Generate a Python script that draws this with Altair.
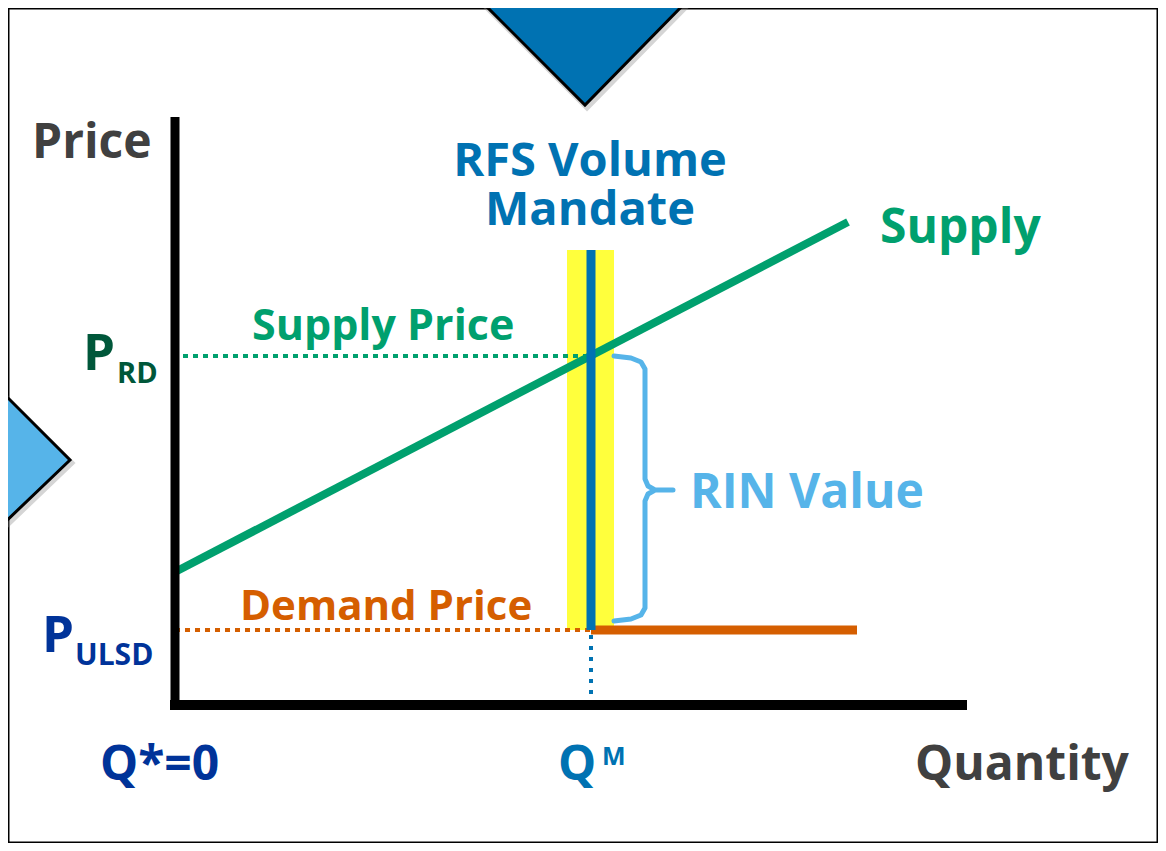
import altair as alt
import pandas as pd

# ---- diagram values (data units: quantity / price, origin at axes corner) ----
Q_M = 416            # RFS volume mandate quantity
P_RD = 349           # renewable diesel (supply) price
P_ULSD = 75          # ULSD (demand) price
supply_q = [0, 673]
supply_p = [133, 483]
demand_q = [416, 682]
demand_p = [75, 75]
axis_q_max = 792
axis_p_max = 588
band_q = [392, 439]
band_p_top = 455

# curly bracket for RIN value (from P_RD down to P_ULSD)
brace_q = [439, 456, 466, 470, 470, 473, 480, 498, 480, 473, 470, 470, 466, 456, 439]
brace_p = [349, 347, 343, 336, 226, 219, 215, 215, 215, 211, 204, 97, 90, 86, 84]

# decorative triangles
top_tri_q = [305, 410, 513]
top_tri_lo = [705, 600, 705]
top_tri_hi = [720, 720, 720]
left_tri_p = [315, 245, 178]
left_tri_q = [-190, -190, -190]
left_tri_q2 = [-175, -105, -175]

X_DOM = [-167, 983]
Y_DOM = [-138, 697]
FONT = "Open Sans"

xs = alt.Scale(domain=X_DOM, nice=False, zero=False)
ys = alt.Scale(domain=Y_DOM, nice=False, zero=False)


def seg(qs, ps):
    return pd.DataFrame({"q": qs, "p": ps, "o": list(range(len(qs)))})


def line(df, color, width, dash=None, cap="butt", join="miter", opacity=1):
    kw = dict(color=color, strokeWidth=width, strokeCap=cap, strokeJoin=join,
              clip=True, opacity=opacity)
    if dash:
        kw["strokeDash"] = dash
    return alt.Chart(df).mark_line(**kw).encode(
        x=alt.X("q:Q", scale=xs, axis=None),
        y=alt.Y("p:Q", scale=ys, axis=None),
        order="o:O",
    )


def text(label, q, p, color, size, align="left", **extra):
    df = pd.DataFrame({"q": [q], "p": [p], "t": [label]})
    return alt.Chart(df).mark_text(
        align=align, baseline="alphabetic", font=FONT, fontWeight="bold",
        fontSize=size, color=color, **extra
    ).encode(x=alt.X("q:Q", scale=xs, axis=None), y=alt.Y("p:Q", scale=ys, axis=None), text="t:N")


GREEN = "#00a06e"
ORANGE = "#d55e00"
BLUE = "#0072b2"
LBLUE = "#56b4e9"
DGREEN = "#00573a"
DBLUE = "#003399"
GRAY = "#404040"

top_df = pd.DataFrame({"q": top_tri_q, "lo": top_tri_lo, "hi": top_tri_hi})
top_tri = alt.Chart(top_df).mark_area(
    fill=BLUE, clip=True, interpolate="linear", opacity=1
).encode(
    x=alt.X("q:Q", scale=xs, axis=None),
    y=alt.Y("lo:Q", scale=ys, axis=None),
    y2=alt.Y2("hi:Q"),
)

left_df = pd.DataFrame({"p": left_tri_p, "q": left_tri_q, "q2": left_tri_q2})
left_tri = alt.Chart(left_df).mark_area(
    fill=LBLUE, clip=True, orient="horizontal", interpolate="linear", opacity=1
).encode(
    y=alt.Y("p:Q", scale=ys, axis=None),
    x=alt.X("q:Q", scale=xs, axis=None),
    x2=alt.X2("q2:Q"),
)

band_df = pd.DataFrame({"q": [band_q[0]], "q2": [band_q[1]], "p": [P_ULSD], "p2": [band_p_top]})
band = alt.Chart(band_df).mark_rect(color="#ffff3c", opacity=1).encode(
    x=alt.X("q:Q", scale=xs, axis=None), x2="q2:Q",
    y=alt.Y("p:Q", scale=ys, axis=None), y2="p2:Q",
)

layers = [
    band,
    line(seg([8, Q_M], [P_RD, P_RD]), GREEN, 4, [5, 5]),
    line(seg([0, Q_M], [P_ULSD, P_ULSD]), ORANGE, 4, [5, 5]),
    line(seg([Q_M, Q_M], [0, P_ULSD]), BLUE, 4, [4, 7]),
    line(seg(demand_q, demand_p), ORANGE, 9),
    line(seg(supply_q, supply_p), GREEN, 8),
    line(seg([Q_M, Q_M], [P_ULSD, band_p_top]), BLUE, 9),
    line(seg(brace_q, brace_p), LBLUE, 5, cap="round", join="round"),
    line(seg([0, 0], [-5, axis_p_max]), "black", 9),
    line(seg([-5, axis_q_max], [0, 0]), "black", 10),
    # soft shadows of the triangles
    line(seg([q + 2 for q in top_tri_q], [p - 3 for p in top_tri_lo]), "#888888", 5, opacity=0.35),
    line(seg([q + 2 for q in left_tri_q2], [p - 3 for p in left_tri_p]), "#888888", 5, opacity=0.35),
    top_tri,
    line(seg(top_tri_q, top_tri_lo), "#000000", 3, join="miter"),
    left_tri,
    line(seg(left_tri_q2, left_tri_p), "#000000", 3, join="miter"),
    text("Price", -143, 547, GRAY, 48),
    text("RFS Volume\nMandate", Q_M - 1, 529, BLUE, 47, "center", lineBreak="\n", lineHeight=49),
    text("Supply", 705, 462, GREEN, 48),
    text("Supply Price", 77, 365, GREEN, 43),
    text("RIN Value", 515, 197, LBLUE, 48),
    text("Demand Price", 65, 85, ORANGE, 42),
    text("P", -92, 335, DGREEN, 51),
    text("RD", -58, 322, DGREEN, 29),
    text("P", -133, 53, DBLUE, 51),
    text("ULSD", -100, 40, DBLUE, 30),
    text("Q*=0", -75, -75, DBLUE, 48),
    text("Q", 383, -75, BLUE, 48),
    text("M", 427, -60, BLUE, 25),
    text("Quantity", 740, -75, GRAY, 48),
]

chart = alt.layer(*layers).properties(
    width=1150, height=835, padding=0, autosize="none", background="white"
).configure_view(stroke="black", strokeWidth=3)

chart.save("out.html", embed_options={"renderer": "svg", "actions": False})
